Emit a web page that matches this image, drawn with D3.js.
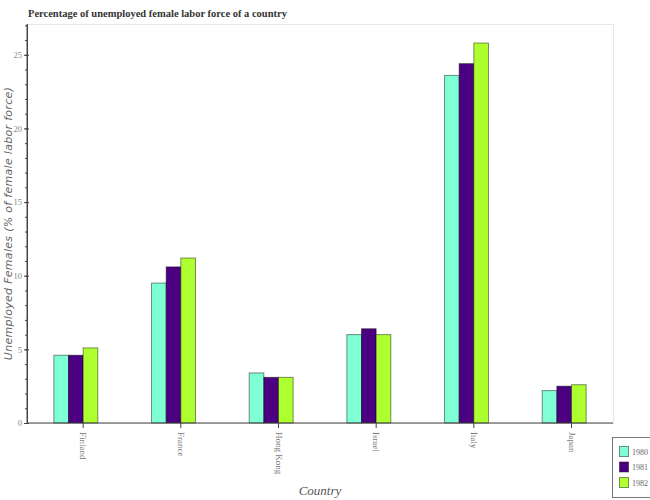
<!DOCTYPE html>
<html><head><meta charset="utf-8">
<script src="https://cdn.jsdelivr.net/npm/d3@7"></script>
<style>body{margin:0;background:#fff;} svg{display:block;}</style>
</head><body>
<svg id="chart" width="650" height="500"></svg>
<script>
const countries = ["Finland","France","Hong Kong","Israel","Italy","Japan"];
const years = ["1980","1981","1982"];
const v1980 = [4.6, 9.5, 3.4, 6.0, 23.6, 2.2];
const v1981 = [4.6, 10.6, 3.1, 6.4, 24.4, 2.5];
const v1982 = [5.1, 11.2, 3.1, 6.0, 25.8, 2.6];
const colors = ["#7FFFD4","#4B0082","#ADFF2F"];
const yMajorTicks = [0,5,10,15,20,25];

const series = [v1980, v1981, v1982];
const svg = d3.select("#chart");
const W = 650, H = 500;
const m = {left:27, right:37, top:24, bottom:77};
const pw = W - m.left - m.right, ph = H - m.top - m.bottom;

const x = d3.scaleBand().domain(countries).range([m.left, m.left+pw]).paddingInner(0).paddingOuter(0);
const yMax = d3.max(series.flat())*1.05;
const y = d3.scaleLinear().domain([0, yMax]).range([m.top+ph, m.top]);
const bw = x.bandwidth()*0.15;

// frame outline
svg.append("rect").attr("x", m.left+0.5).attr("y", m.top+0.5).attr("width", pw).attr("height", ph)
  .attr("fill","none").attr("stroke","#e8e8e8").attr("stroke-width",1);

// bars
series.forEach((vals, si) => {
  svg.append("g").selectAll("rect").data(countries).join("rect")
    .attr("x", (c) => x(c) + x.bandwidth()/2 + (si-1)*bw - bw/2)
    .attr("y", (c,i) => y(vals[i]))
    .attr("width", bw)
    .attr("height", (c,i) => y(0) - y(vals[i]))
    .attr("fill", colors[si])
    .attr("stroke", "#000").attr("stroke-opacity", 0.45).attr("stroke-width", 1);
});

// y axis
const yAxisG = svg.append("g").attr("transform", `translate(${m.left},0)`);
yAxisG.call(d3.axisLeft(y).tickValues(d3.range(0, Math.floor(yMax)+1, 1)).tickSize(2).tickFormat(""))
  .call(g => g.select(".domain").remove())
  .call(g => g.selectAll("line").attr("stroke","#444"));
yAxisG.append("g").call(d3.axisLeft(y).tickValues(yMajorTicks).tickSizeInner(2).tickSizeOuter(0).tickPadding(3))
  .call(g => g.select(".domain").attr("stroke","#444"))
  .call(g => g.selectAll(".tick line").attr("x2", 2).attr("x1",-3).attr("stroke","#444"))
  .call(g => g.selectAll("text").attr("font-family","Liberation Serif, serif").attr("font-size", 8.5).attr("fill","#888"));
yAxisG.append("line").attr("x1",0).attr("x2",0).attr("y1",m.top).attr("y2",m.top+ph).attr("stroke","#444");

// x axis
const xAxisG = svg.append("g").attr("transform", `translate(0,${m.top+ph})`);
xAxisG.append("line").attr("x1", m.left).attr("x2", m.left+pw).attr("y1",0).attr("y2",0).attr("stroke","#444");
const xt = xAxisG.selectAll("g.xt").data(countries).join("g").attr("class","xt")
  .attr("transform", c => `translate(${x(c)+x.bandwidth()/2+bw/2},0)`);
xt.append("line").attr("y1",0).attr("y2",5).attr("stroke","#444");
xt.append("text").attr("transform","translate(0,9) rotate(90)")
  .attr("dy","0.33em").attr("text-anchor","start")
  .attr("font-family","Liberation Serif, serif").attr("font-size", 9).attr("fill","#777")
  .text(c => c);

// title
svg.append("text").attr("x", 28).attr("y", 17)
  .attr("font-family","Liberation Serif, serif").attr("font-weight","bold").attr("font-size", 10.5)
  .attr("fill","#333").text("Percentage of unemployed female labor force of a country");

// axis labels
svg.append("text").attr("transform", `translate(12,${m.top+ph/2}) rotate(-90)`)
  .attr("text-anchor","middle").attr("font-family","DejaVu Sans, sans-serif").attr("font-style","italic")
  .attr("font-size", 11).attr("fill","#666").attr("letter-spacing", 0.3)
  .text("Unemployed Females (% of female labor force)");
svg.append("text").attr("x", m.left+pw/2).attr("y", 495)
  .attr("text-anchor","middle").attr("font-family","Liberation Serif, serif").attr("font-style","italic")
  .attr("font-size", 13).attr("fill","#555").text("Country");

// legend
const lg = svg.append("g").attr("transform","translate(612,437)");
lg.append("rect").attr("x",0.5).attr("y",0.5).attr("width",45).attr("height",60)
  .attr("fill","#fff").attr("stroke","#777");
years.forEach((yr, i) => {
  lg.append("rect").attr("x",7.5).attr("y",9.5+i*15.5).attr("width",9).attr("height",10)
    .attr("fill",colors[i]).attr("stroke","#000").attr("stroke-opacity",0.45);
  lg.append("text").attr("x",20).attr("y",15+i*15.5).attr("dy","0.33em")
    .attr("font-family","Liberation Serif, serif").attr("font-size",8).attr("fill","#666").text(yr);
});
</script>
</body></html>
